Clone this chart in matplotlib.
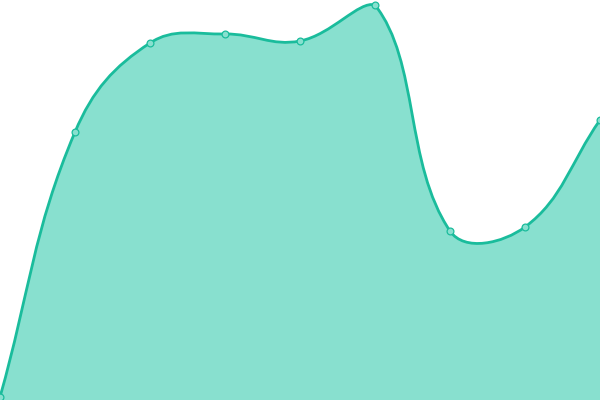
import matplotlib
matplotlib.use("Agg")
import matplotlib.pyplot as plt
from matplotlib.path import Path
from matplotlib.patches import PathPatch
import numpy as np

categories = list(range(9))
values = [3, 268, 357, 366, 359, 395, 169, 173, 280]

LINE = "#1abc9c"
FILL = "#88e0cf"
TENSION = 0.4
XSTEP = 75.0  # pixel-equivalent spacing so smoothing is isotropic
W, H = 600.0, 400.0


def spline_path(xs, ys, t):
    n = len(xs)
    cps = []
    for i in range(n):
        cx, cy = xs[i], ys[i]
        px, py = (xs[i - 1], ys[i - 1]) if i > 0 else (cx, cy)
        nx, ny = (xs[i + 1], ys[i + 1]) if i < n - 1 else (cx, cy)
        d01 = np.hypot(cx - px, cy - py)
        d12 = np.hypot(nx - cx, ny - cy)
        tot = d01 + d12
        s01 = d01 / tot if tot else 0.0
        s12 = d12 / tot if tot else 0.0
        fa, fb = t * s01, t * s12
        prev = [cx - fa * (nx - px), cy - fa * (ny - py)]
        nxt = [cx + fb * (nx - px), cy + fb * (ny - py)]
        for p in (prev, nxt):
            p[0] = min(max(p[0], 0.0), W)
            p[1] = min(max(p[1], 0.0), H)
        cps.append((prev, nxt))
    verts = [(xs[0], ys[0])]
    codes = [Path.MOVETO]
    for i in range(1, n):
        verts += [tuple(cps[i - 1][1]), tuple(cps[i][0]), (xs[i], ys[i])]
        codes += [Path.CURVE4] * 3
    return verts, codes


xs = [c * XSTEP for c in categories]
ys = list(values)
verts, codes = spline_path(xs, ys, TENSION)

fig = plt.figure(figsize=(6, 4), dpi=100)
ax = fig.add_axes([0, 0, 1, 1])
ax.set_xlim(0, W)
ax.set_ylim(0, H)
ax.axis("off")

area_verts = verts + [(xs[-1], 0), (xs[0], 0), (xs[0], ys[0])]
area_codes = codes + [Path.LINETO, Path.LINETO, Path.CLOSEPOLY]
ax.add_patch(PathPatch(Path(area_verts, area_codes), facecolor=FILL,
                       edgecolor="none", zorder=1))
ax.add_patch(PathPatch(Path(verts, codes), facecolor="none", edgecolor=LINE,
                       linewidth=2.0, zorder=2, capstyle="round", joinstyle="round"))
ax.scatter(xs, ys, s=24, facecolor=FILL, edgecolor=LINE, linewidth=0.9,
           zorder=3, clip_on=True)

fig.savefig("out.png", dpi=100)
